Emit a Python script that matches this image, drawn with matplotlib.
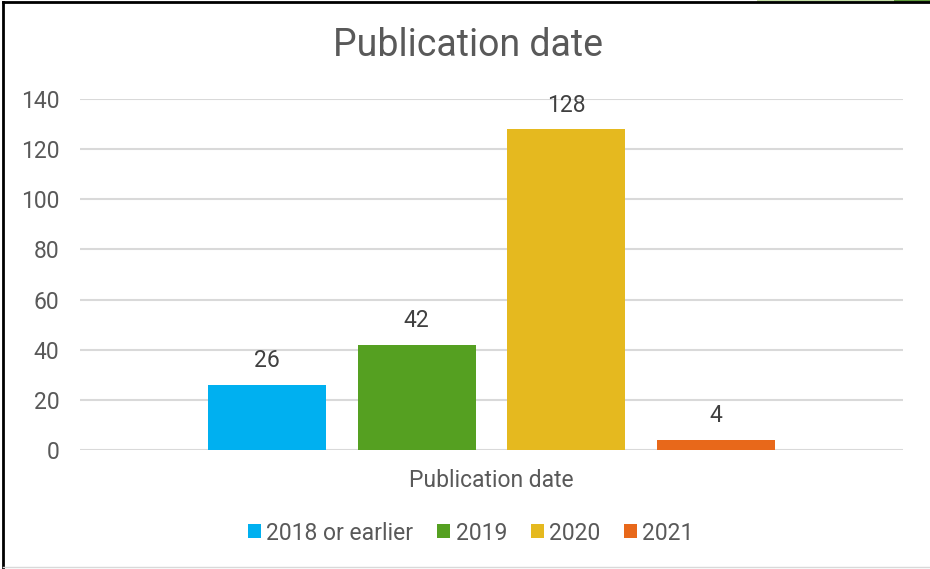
import matplotlib
matplotlib.use("Agg")
import matplotlib.pyplot as plt
from matplotlib.lines import Line2D
from matplotlib.patches import Patch, Rectangle

# Publication date counts
categories = ["2018 or earlier", "2019", "2020", "2021"]
counts = [26, 42, 128, 4]
colors = ["#00B0F0", "#55A021", "#E5B91F", "#E8681A"]
group_label = "Publication date"

plt.rcParams["font.family"] = ["Roboto", "DejaVu Sans"]
text_color = "#595959"
fs = 16.5

fig = plt.figure(figsize=(9.3, 5.69), dpi=100)
ax = fig.add_axes([80 / 930, 119 / 569, 823 / 930, 351 / 569])

offsets = [i - (len(counts) - 1) / 2 for i in range(len(counts))]
bars = ax.bar(offsets, counts, width=0.79, color=colors, zorder=3)

for b, v in zip(bars, counts):
    ax.annotate(str(v), (b.get_x() + b.get_width() / 2, v), xytext=(0, 9),
                textcoords="offset points", ha="center", va="bottom",
                fontsize=fs, color="#404040")

ax.set_xlim(-2.75, 2.75)
ax.set_ylim(0, 140)
ax.set_yticks(range(0, 141, 20))
ax.set_xticks([0])
ax.set_xticklabels([group_label])
ax.tick_params(axis="x", length=0, pad=14, labelsize=fs, colors=text_color)
ax.tick_params(axis="y", length=0, pad=15, labelsize=fs, colors=text_color)
ax.grid(axis="y", color="#D9D9D9", linewidth=1.5, zorder=0)
for s in ax.spines.values():
    s.set_visible(False)

fig.text(468 / 930, 1 - 45 / 569, "Publication date", ha="center", va="center",
         fontsize=27, color=text_color)

handles = [Patch(facecolor=c, edgecolor="none") for c in colors]
fig.legend(handles, categories, loc="center", bbox_to_anchor=(471 / 930, 1 - 533 / 569),
           ncol=4, frameon=False, fontsize=fs, handlelength=0.57, handleheight=0.57,
           handletextpad=0.22, columnspacing=1.05, labelcolor=text_color)

# chart border
fig.add_artist(Line2D([3 / 930, 3 / 930], [0, 1 - 2 / 569], color="black", linewidth=2))
fig.add_artist(Line2D([3 / 930, 1], [1 - 2 / 569, 1 - 2 / 569], color="black", linewidth=2))
fig.add_artist(Line2D([3 / 930, 1], [2 / 569, 2 / 569], color="#D9D9D9", linewidth=1))
# bit of green strip peeking at top right
fig.add_artist(Rectangle((757 / 930, 1 - 2 / 569), 137 / 930, 2 / 569,
                         transform=fig.transFigure, color="#C5DFA6", lw=0))
fig.add_artist(Rectangle((894 / 930, 1 - 2 / 569), 36 / 930, 2 / 569,
                         transform=fig.transFigure, color="#5E9A3A", lw=0))

fig.savefig("out.png", dpi=100)
